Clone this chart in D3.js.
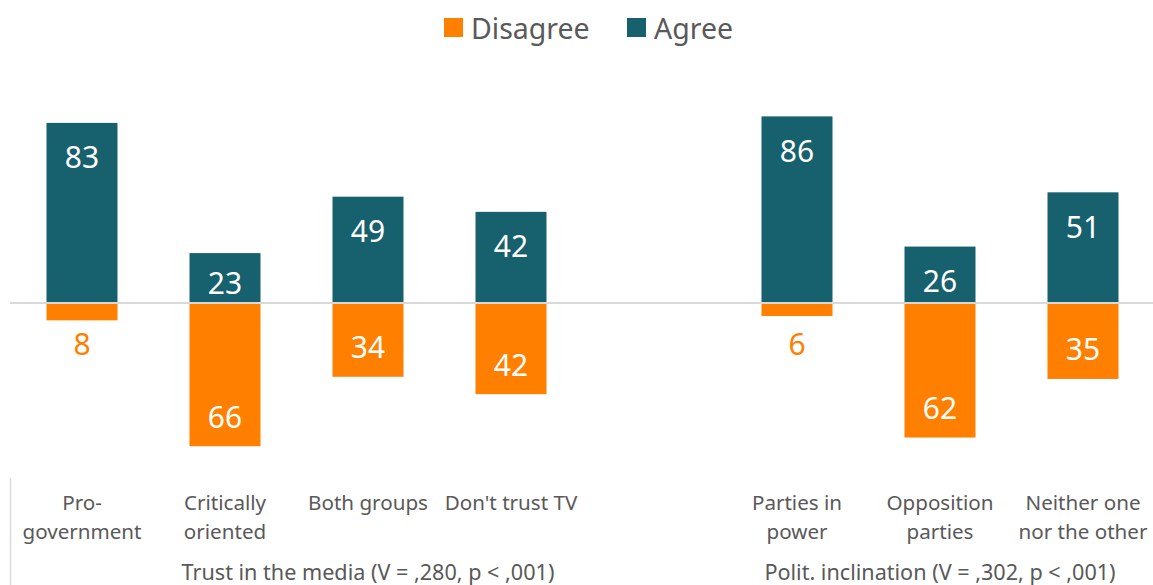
<!DOCTYPE html>
<html>
<head>
<meta charset="utf-8">
<script src="https://cdn.jsdelivr.net/npm/d3@7"></script>
<style>
  html, body { margin: 0; padding: 0; background: #fff; }
  svg { display: block; font-family: "Noto Sans", "Open Sans", sans-serif; }
</style>
</head>
<body>
<svg id="chart" width="1153" height="585"></svg>
<script>
// Categories (the empty slot separates the two groups)
const categories = ["pro", "crit", "both", "notv", "gap", "power", "opp", "neither"];
const categoryLabels = [
  ["Pro-", "government"],
  ["Critically", "oriented"],
  ["Both groups"],
  ["Don't trust TV"],
  [],
  ["Parties in", "power"],
  ["Opposition", "parties"],
  ["Neither one", "nor the other"]
];
const agree    = [83, 23, 49, 42, null, 86, 26, 51];
const disagree = [8, 66, 34, 42, null, 6, 62, 35];
const groups = [
  { label: "Trust in the media (V = ,280, p < ,001)", from: "pro", to: "gap" },
  { label: "Polit. inclination (V = ,302, p < ,001)", from: "power", to: "neither" }
];
const seriesNames = ["Disagree", "Agree"];

const COL_AGREE = "#17606d";
const COL_DISAGREE = "#ff7f00";
const TEXT = "#595959";

const svg = d3.select("#chart");

const x = d3.scaleBand()
  .domain(categories)
  .range([10.5, 1154.5])
  .paddingInner(0.5035)
  .paddingOuter(0.25175);

const y = d3.scaleLinear()
  .domain([-70, 90])
  .range([303 + 70 * 2.17, 303 - 90 * 2.17]);

const rows = categories.map((c, i) => ({ c, i, a: agree[i], d: disagree[i] }))
  .filter(r => r.a !== null);

// Agree bars (upwards)
svg.append("g").selectAll("rect").data(rows).join("rect")
  .attr("x", r => x(r.c))
  .attr("width", x.bandwidth())
  .attr("y", r => y(r.a))
  .attr("height", r => y(0) - y(r.a))
  .attr("fill", COL_AGREE);

// Disagree bars (downwards)
svg.append("g").selectAll("rect").data(rows).join("rect")
  .attr("x", r => x(r.c))
  .attr("width", x.bandwidth())
  .attr("y", y(0))
  .attr("height", r => y(-r.d) - y(0))
  .attr("fill", COL_DISAGREE);

// Zero line
svg.append("line")
  .attr("x1", 10).attr("x2", 1153)
  .attr("y1", y(0)).attr("y2", y(0))
  .attr("stroke", "#d9d9d9").attr("stroke-width", 2);

// Value labels
const cx = c => x(c) + x.bandwidth() / 2;
svg.append("g").selectAll("text").data(rows).join("text")
  .attr("x", r => cx(r.c))
  .attr("y", r => Math.min(y(r.a) + 35, y(0) - 20))
  .attr("dy", "0.35em")
  .attr("text-anchor", "middle")
  .attr("font-size", 30)
  .attr("fill", "#fff")
  .text(r => r.a);

svg.append("g").selectAll("text").data(rows).join("text")
  .attr("x", r => cx(r.c))
  .attr("y", r => r.d < 15 ? y(0) + 41 : y(-r.d) - 29)
  .attr("dy", "0.35em")
  .attr("text-anchor", "middle")
  .attr("font-size", 30)
  .attr("fill", r => r.d < 15 ? COL_DISAGREE : "#fff")
  .text(r => r.d);

// Category labels
const catG = svg.append("g").attr("fill", TEXT).attr("font-size", 20.6).attr("text-anchor", "middle");
categories.forEach((c, i) => {
  categoryLabels[i].forEach((line, k) => {
    catG.append("text")
      .attr("x", cx(c))
      .attr("y", 503 + k * 29)
      .attr("dy", "0.35em")
      .text(line);
  });
});

// Group labels
groups.forEach(g => {
  const gx = (cx(g.from) + cx(g.to)) / 2;
  svg.append("text")
    .attr("x", gx).attr("y", 572)
    .attr("dy", "0.35em")
    .attr("text-anchor", "middle")
    .attr("font-size", 21.6)
    .attr("fill", TEXT)
    .text(g.label);
});

// Left edge of the category axis
svg.append("line")
  .attr("x1", 10.5).attr("x2", 10.5)
  .attr("y1", 478).attr("y2", 585)
  .attr("stroke", "#d9d9d9").attr("stroke-width", 1.5);

// Legend
const legend = svg.append("g");
const legendItems = [
  { name: seriesNames[0], color: COL_DISAGREE, x: 444 },
  { name: seriesNames[1], color: COL_AGREE, x: 627 }
];
legendItems.forEach(it => {
  legend.append("rect")
    .attr("x", it.x).attr("y", 18)
    .attr("width", 19).attr("height", 19)
    .attr("fill", it.color);
  legend.append("text")
    .attr("x", it.x + 27).attr("y", 29)
    .attr("dy", "0.35em")
    .attr("font-size", 28.5)
    .attr("fill", TEXT)
    .text(it.name);
});
</script>
</body>
</html>
